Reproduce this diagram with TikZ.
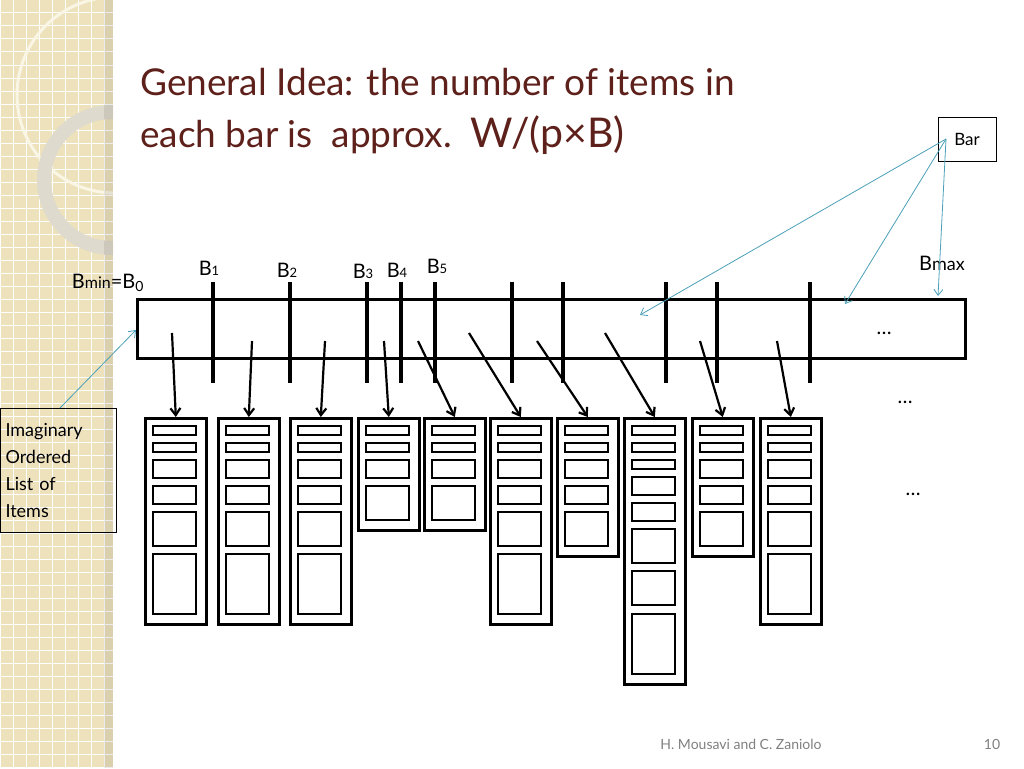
\documentclass[tikz,border=0pt]{standalone}
\usepackage{fontspec}
\setmainfont{Lato}
\usetikzlibrary{arrows.meta}
\definecolor{beige}{RGB}{238,226,188}
\definecolor{ringA}{RGB}{250,246,230}
\definecolor{ringB}{RGB}{222,218,205}
\definecolor{teal}{RGB}{75,160,185}
\definecolor{titlec}{RGB}{94,32,26}
\begin{document}
\begin{tikzpicture}[x=1pt,y=-1pt,
  thick bar/.style={line width=4pt},
  colbox/.style={draw,line width=2.6pt,rectangle,inner sep=0pt,anchor=north west},
  slot/.style={draw,line width=2.6pt},
  darr/.style={line width=2.2pt,-{Straight Barb[length=7pt,width=10pt]}},
  tarr/.style={draw=teal,line width=0.8pt,-{Straight Barb[length=6pt,width=9pt]}},
  lbl/.style={font=\fontsize{20}{22}\selectfont,inner sep=0pt},
  tbox/.style={draw,line width=1pt,font=\fontsize{17}{20}\selectfont,inner sep=4pt}]
\useasboundingbox (0,0) rectangle (1024,768);
\fill[white] (0,0) rectangle (1024,768);
% decorative strip
\begin{scope}
\clip (0,0) rectangle (113,768);
\fill[beige] (0,0) rectangle (113,768);
\foreach \g in {0,13,...,780} {\draw[white,line width=1pt] (\g,0) -- (\g,768); \draw[white,line width=1pt] (0,\g) -- (113,\g);}
\draw[ringA,line width=3pt] (115,95) circle (98);
\draw[ringB,line width=14pt] (112,180) circle (68);
\fill[black,opacity=0.08] (104,0) rectangle (113,768);
\end{scope}
% title
\node[anchor=west,text=titlec,font=\fontsize{37}{40}\selectfont,inner sep=0pt] (t1) at (140,82) {General Idea: the number of items in};
\node[anchor=west,text=titlec,font=\fontsize{37}{40}\selectfont,inner sep=0pt] (t2) at (140,135) {each bar is\ \ approx.\ \ {\fontsize{41}{44}\selectfont W/(p×B)}};
% main bar
\node[draw,line width=2.6pt,minimum width=828pt,minimum height=59pt,inner sep=0pt,anchor=north west] (bar) at (136,298) {};
\foreach \x in {213,290,367,401,435,512,563,666,717,810} \draw[thick bar] (\x,282) -- (\x,383);
\node[lbl] (b0) at (108,283) {B{\fontsize{16}{18}\selectfont min}=B\textsubscript{0}};
\node[lbl] (b1) at (209,268) {B{\fontsize{13}{15}\selectfont 1}};
\node[lbl] (b2) at (287,270) {B{\fontsize{13}{15}\selectfont 2}};
\node[lbl] (b3) at (363,271) {B{\fontsize{13}{15}\selectfont 3}};
\node[lbl] (b4) at (397,270) {B{\fontsize{13}{15}\selectfont 4}};
\node[lbl] (b5) at (437,266) {B{\fontsize{13}{15}\selectfont 5}};
\node[lbl] (bm) at (942,263) {B{\fontsize{18}{20}\selectfont max}};
\node[lbl] (d1) at (884,333) {…};
\node[lbl] (d2) at (905,402) {…};
\node[lbl] (d3) at (913,494) {…};
% columns
\def\sfull{9/18,26/35,43/61,69/87,95/129,137/197}
\def\sshort{9/18,26/35,43/61,69/103}
\def\sfive{9/18,26/35,43/61,69/87,95/129}
\def\slong{9/18,26/35,43/52,60/78,86/104,112/146,154/188,197/257}
\foreach \i/\x/\h/\sl in {1/144/206/full,2/217/206/full,3/289/206/full,4/357/112/short,5/423/112/short,6/489/206/full,7/556/138/five,8/623/266/long,9/691/138/five,10/759/206/full}{
  \node[colbox,minimum width=61pt,minimum height=\h pt] (c\i) at (\x,417) {};
  \edef\curlist{\csname s\sl\endcsname}
  \foreach \a/\b in \curlist \draw[slot] (\x+9,417+\a) rectangle (\x+52,417+\b);
}
% arrows
\foreach \i/\sx/\sy in {1/172/333,2/252/341,3/325/341,4/384/341,5/418/341,6/469/333,7/537/341,8/605/333,9/700/341,10/777/341}{
  \coordinate (s\i) at (\sx,\sy);
  \draw[darr] (s\i) -- (c\i.north);
}
% boxes with teal arrows
\node[tbox,minimum width=58pt,minimum height=44pt] (barlbl) at (967,139) {Bar};
\coordinate (o) at (946,139);
\coordinate (e1) at (640,315);
\coordinate (e2) at (845,304);
\coordinate (e3) at (938,296);
\foreach \e in {e1,e2,e3} \draw[tarr] (o) -- (\e);
\node[tbox,anchor=north west,minimum width=116pt,minimum height=124pt,align=left,text width=106pt,font=\fontsize{18}{27}\selectfont,inner sep=5pt] (img) at (0,408) {Imaginary\\Ordered\\List of\\Items};
\coordinate (is) at (60,408);
\coordinate (ie) at (136,330);
\draw[tarr] (is) -- (ie);
% footer
\node[text=gray,font=\fontsize{14}{16}\selectfont] (foot) at (741,744) {H. Mousavi and C. Zaniolo};
\node[text=gray,font=\fontsize{14}{16}\selectfont] (pg) at (992,744) {10};
\end{tikzpicture}
\end{document}
